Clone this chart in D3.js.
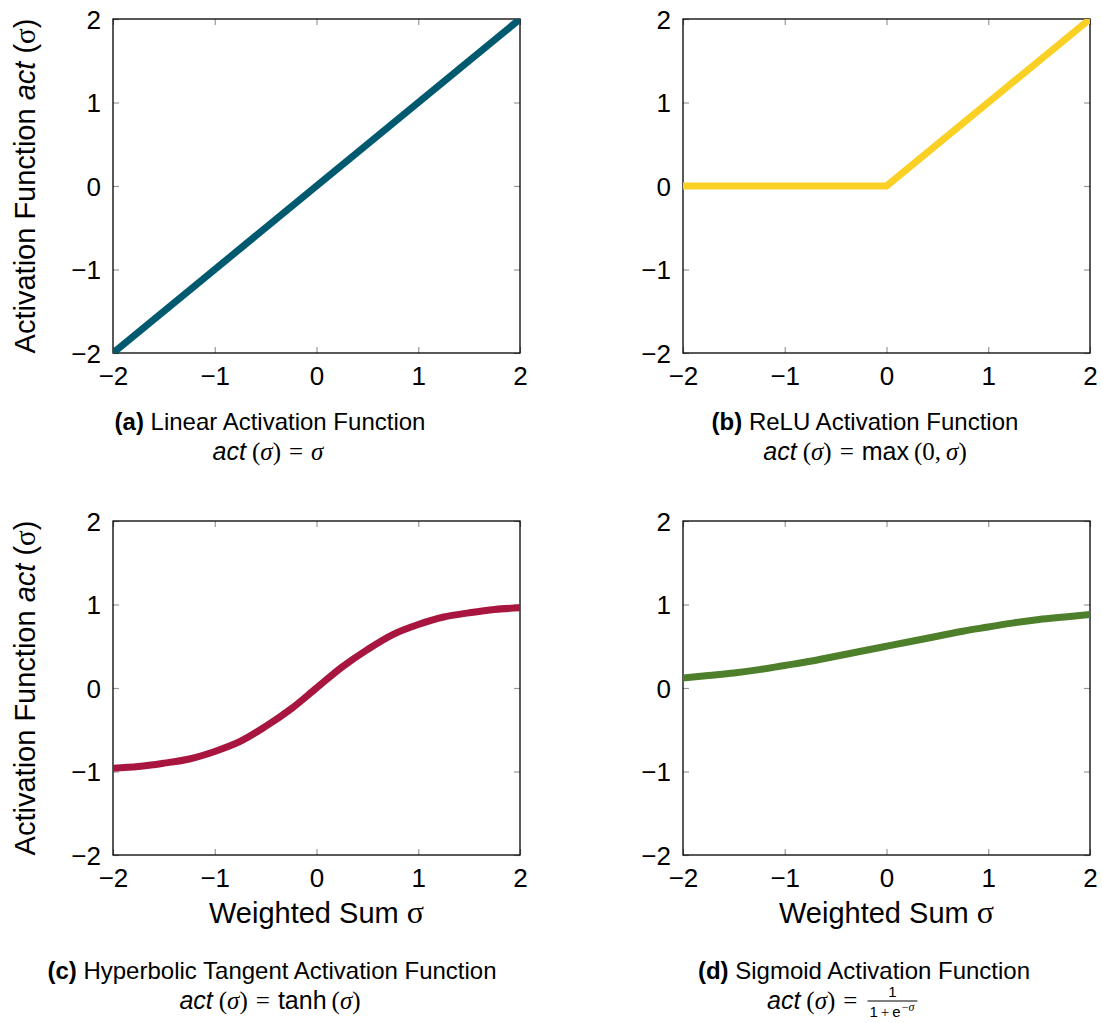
<!DOCTYPE html>
<html>
<head>
<meta charset="utf-8">
<script src="https://cdn.jsdelivr.net/npm/d3@7"></script>
<style>
  body { margin: 0; background: #fff; }
  text { font-family: "Liberation Sans", Arial, sans-serif; fill: #000; }
  .math { font-family: "Liberation Serif", serif; }
</style>
</head>
<body>
<svg id="main-svg" width="1102" height="1023"></svg>
<script>
// Tick values shared by both axes
const tickValues = [-2, -1, 0, 1, 2];

// Linear: act = sigma
const linearSigma = [-2, 2];
const linearAct = [-2, 2];

// ReLU: act = max(0, sigma)
const reluSigma = [-2, 0, 2];
const reluAct = [0, 0, 2];

// Curves on a 0.25 grid
const curveSigma = [-2, -1.75, -1.5, -1.25, -1, -0.75, -0.5, -0.25, 0,
                    0.25, 0.5, 0.75, 1, 1.25, 1.5, 1.75, 2];
const tanhAct = [-0.96, -0.94, -0.9, -0.85, -0.76, -0.64, -0.46, -0.25, 0,
                 0.25, 0.46, 0.64, 0.76, 0.85, 0.9, 0.94, 0.96];
const sigmoidAct = [0.12, 0.15, 0.18, 0.22, 0.27, 0.32, 0.38, 0.44, 0.5,
                    0.56, 0.62, 0.68, 0.73, 0.78, 0.82, 0.85, 0.88];

const panels = [
    { id: 'a', xs: linearSigma, ys: linearAct, color: '#005a6f', left: 113, top: 19,
      yLabel: true, xLabel: false, capX: 270, capY: 430,
      title: 'Linear Activation Function', formula: 'id' },
    { id: 'b', xs: reluSigma, ys: reluAct, color: '#fbd024', left: 683, top: 19,
      yLabel: false, xLabel: false, capX: 865, capY: 430,
      title: 'ReLU Activation Function', formula: 'relu' },
    { id: 'c', xs: curveSigma, ys: tanhAct, color: '#a8163f', left: 113, top: 521,
      yLabel: true, xLabel: true, capX: 272, capY: 979,
      title: 'Hyperbolic Tangent Activation Function', formula: 'tanh' },
    { id: 'd', xs: curveSigma, ys: sigmoidAct, color: '#4e7f2b', left: 683, top: 521,
      yLabel: false, xLabel: true, capX: 864, capY: 979,
      title: 'Sigmoid Activation Function', formula: 'sig' },
];

const W = 407, H = 334;
const svg = d3.select('#main-svg');

panels.forEach(p => {
    const g = svg.append('g').attr('transform', `translate(${p.left},${p.top})`);
    const x = d3.scaleLinear().domain([-2, 2]).range([0, W]);
    const y = d3.scaleLinear().domain([-2, 2]).range([H, 0]);
    const fmt = d3.format('d');

    g.append('clipPath').attr('id', 'clip-' + p.id)
        .append('rect').attr('width', W).attr('height', H);

    // inward ticks on all four sides
    const styleAxis = sel => {
        sel.select('.domain').remove();
        sel.selectAll('.tick line').attr('stroke', '#999').attr('stroke-width', 1.2);
        sel.selectAll('.tick text')
            .style('font-family', '"Liberation Sans", Arial, sans-serif')
            .style('font-size', '26px').attr('fill', '#000');
    };
    g.append('g').attr('transform', `translate(0,${H})`)
        .call(d3.axisBottom(x).tickValues(tickValues).tickFormat(fmt)
            .tickSizeInner(-6).tickSizeOuter(0).tickPadding(14))
        .call(styleAxis);
    g.append('g')
        .call(d3.axisLeft(y).tickValues(tickValues).tickFormat(fmt)
            .tickSizeInner(-6).tickSizeOuter(0).tickPadding(12))
        .call(styleAxis)
        .selectAll('.tick text').attr('dy', '0.36em');
    g.append('g')
        .call(d3.axisTop(x).tickValues(tickValues).tickSizeInner(-6).tickSizeOuter(0).tickFormat(''))
        .call(styleAxis);
    g.append('g').attr('transform', `translate(${W},0)`)
        .call(d3.axisRight(y).tickValues(tickValues).tickSizeInner(-6).tickSizeOuter(0).tickFormat(''))
        .call(styleAxis);

    g.append('rect').attr('width', W).attr('height', H)
        .attr('fill', 'none').attr('stroke', '#000').attr('stroke-width', 1.3);

    const line = d3.line()
        .x((d, i) => x(p.xs[i]))
        .y(d => y(d))
        .curve(p.xs.length > 3 ? d3.curveCatmullRom : d3.curveLinear);
    g.append('path')
        .datum(p.ys)
        .attr('clip-path', `url(#clip-${p.id})`)
        .attr('d', line)
        .attr('fill', 'none')
        .attr('stroke', p.color)
        .attr('stroke-width', 7)
        .attr('stroke-linejoin', 'round');

    if (p.yLabel) {
        const t = svg.append('text')
            .attr('transform', `translate(${p.left - 78},${p.top + H / 2}) rotate(-90)`)
            .attr('text-anchor', 'middle')
            .style('font-size', '29px');
        t.append('tspan').text('Activation Function ');
        t.append('tspan').style('font-style', 'italic').text('act');
        t.append('tspan').text(' (');
        t.append('tspan').attr('class', 'math').text('σ');
        t.append('tspan').text(')');
    }
    if (p.xLabel) {
        const t = svg.append('text')
            .attr('x', p.left + W / 2).attr('y', p.top + H + 68)
            .attr('text-anchor', 'middle')
            .style('font-size', '29px');
        t.append('tspan').text('Weighted Sum ');
        t.append('tspan').attr('class', 'math').style('font-size', '32px').text('σ');
    }

    // caption
    const cap = svg.append('text')
        .attr('x', p.capX).attr('y', p.capY)
        .attr('text-anchor', 'middle')
        .style('font-size', '24px');
    cap.append('tspan').style('font-weight', 'bold').text(`(${p.id})`);
    cap.append('tspan').text(' ' + p.title);

    const fy = p.capY + 30;
    const f = svg.append('text')
        .attr('y', fy)
        .attr('text-anchor', 'middle')
        .style('font-size', '25px');
    f.append('tspan').style('font-style', 'italic').text('act');
    f.append('tspan').attr('class', 'math').attr('dx', 6).text('(');
    f.append('tspan').attr('class', 'math').style('font-style', 'italic').text('σ');
    f.append('tspan').attr('class', 'math').text(')');
    f.append('tspan').attr('class', 'math').attr('dx', 8).text('=');
    if (p.formula === 'id') {
        f.attr('x', p.capX - 2);
        f.append('tspan').attr('class', 'math').attr('dx', 8).style('font-style', 'italic').text('σ');
    } else if (p.formula === 'relu') {
        f.attr('x', p.capX);
        f.append('tspan').attr('dx', 8).text('max');
        f.append('tspan').attr('class', 'math').attr('dx', 5).text('(0,');
        f.append('tspan').attr('class', 'math').attr('dx', 5).style('font-style', 'italic').text('σ');
        f.append('tspan').attr('class', 'math').text(')');
    } else if (p.formula === 'tanh') {
        f.attr('x', 270);
        f.append('tspan').attr('dx', 8).text('tanh');
        f.append('tspan').attr('class', 'math').attr('dx', 5).text('(');
        f.append('tspan').attr('class', 'math').style('font-style', 'italic').text('σ');
        f.append('tspan').attr('class', 'math').text(')');
    } else {
        // fraction drawn separately to the right of "act (σ) ="
        f.attr('text-anchor', 'start').attr('x', 767);
        const bb = f.node().getBBox();
        const fx = bb.x + bb.width + 10;
        const den = svg.append('text').attr('x', fx + 2).attr('y', fy + 8)
            .style('font-size', '15px');
        den.append('tspan').text('1');
        den.append('tspan').attr('class', 'math').attr('dx', 3).text('+');
        den.append('tspan').attr('dx', 3).text('e');
        den.append('tspan').attr('dy', -6).attr('dx', 1).attr('class', 'math').style('font-size', '12px').text('−');
        den.append('tspan').attr('class', 'math').style('font-style', 'italic').style('font-size', '12px').text('σ');
        const dw = den.node().getBBox().width + 4;
        svg.append('line')
            .attr('x1', fx).attr('x2', fx + dw)
            .attr('y1', fy - 8).attr('y2', fy - 8)
            .attr('stroke', '#000').attr('stroke-width', 1);
        svg.append('text').attr('x', fx + dw / 2).attr('y', fy - 12)
            .attr('text-anchor', 'middle').style('font-size', '15px').text('1');
    }
});
</script>
</body>
</html>
